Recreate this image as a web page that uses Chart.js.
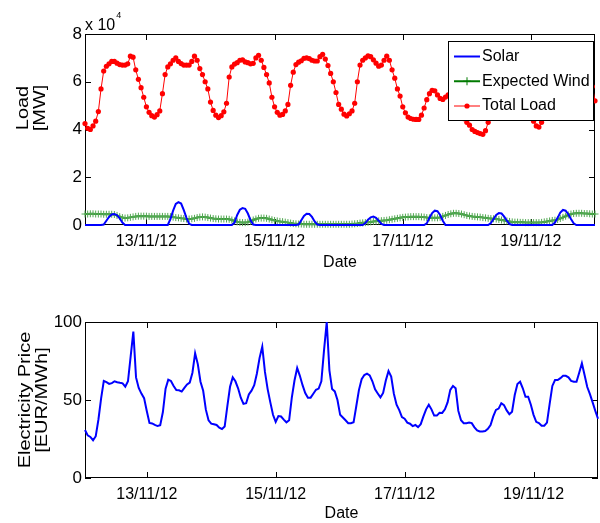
<!DOCTYPE html>
<html>
<head>
<meta charset="utf-8">
<script src="https://cdn.jsdelivr.net/npm/chart.js@4.4.1/dist/chart.umd.min.js"></script>
<style>
    body { margin: 0; background: #fff; }
    .panel { position: absolute; left: 0; }
</style>
</head>
<body>
<canvas id="loadChart" class="panel" width="600" height="285" style="top:0"></canvas>
<canvas id="priceChart" class="panel" width="600" height="238" style="top:285px"></canvas>
<script>
const FONT = "'Liberation Sans', Arial, Helvetica, sans-serif";

// one sample per hour, counted from 12/11/12 00:00
const hours = Array.from({ length: 192 }, (_, i) => i + 1);
const tickHours = [24, 72, 120, 168];
const dateLabels = ['13/11/12', '15/11/12', '17/11/12', '19/11/12'];

// MW
const solar = [
    0, 0, 0, 0, 0, 0, 0, 200, 1800, 3400, 4400, 4600, 4100, 2800, 1000, 0, 0, 0, 0, 0, 0, 0, 0, 0,
    0, 0, 0, 0, 0, 0, 0, 0, 2500, 6000, 8800, 9600, 9000, 6200, 3000, 500, 0, 0, 0, 0, 0, 0, 0, 0,
    0, 0, 0, 0, 0, 0, 0, 0, 1000, 4200, 6400, 7100, 6800, 4800, 2000, 200, 0, 0, 0, 0, 0, 0, 0, 0,
    0, 0, 0, 0, 0, 0, 0, 0, 200, 2000, 3800, 4700, 4600, 3400, 1500, 200, 0, 0, 0, 0, 0, 0, 0, 0,
    0, 0, 0, 0, 0, 0, 0, 0, 0, 800, 2200, 3200, 3500, 3000, 1800, 500, 0, 0, 0, 0, 0, 0, 0, 0,
    0, 0, 0, 0, 0, 0, 0, 0, 700, 3000, 5000, 6000, 5800, 4200, 1800, 0, 0, 0, 0, 0, 0, 0, 0, 0,
    0, 0, 0, 0, 0, 0, 0, 0, 800, 2500, 4200, 5000, 4800, 3500, 1800, 400, 0, 0, 0, 0, 0, 0, 0, 0,
    0, 0, 0, 0, 0, 0, 0, 0, 1000, 3000, 5200, 6300, 6000, 4500, 2500, 700, 0, 0, 0, 0, 0, 0, 0, 0
];
const expectedWind = [
    4600, 4600, 4700, 4700, 4600, 4600, 4600, 4500, 4500, 4500, 4500, 4400, 4000, 3500, 3100, 2900, 3000, 3200, 3400, 3600, 3700, 3700, 3700, 3700,
    3600, 3600, 3600, 3600, 3600, 3600, 3600, 3600, 3500, 3300, 3100, 3000, 2800, 2700, 2500, 2500, 2600, 2800, 3100, 3300, 3400, 3300, 3100, 2900,
    2700, 2600, 2500, 2500, 2500, 2500, 2400, 2100, 1700, 1300, 1100, 1000, 1000, 1200, 1600, 2100, 2500, 2800, 2900, 2900, 2800, 2500, 2200, 1900,
    1700, 1500, 1400, 1200, 1000, 800, 600, 500, 400, 400, 300, 300, 300, 300, 300, 300, 300, 300, 300, 300, 300, 300, 300, 300,
    300, 300, 300, 300, 400, 500, 600, 800, 900, 1000, 1100, 1300, 1500, 1600, 1700, 1800, 1900, 2000, 2200, 2400, 2600, 2800, 3000, 3200,
    3300, 3400, 3500, 3500, 3500, 3500, 3400, 3300, 3100, 3000, 3000, 3000, 3000, 3200, 3600, 4000, 4400, 4700, 4900, 4900, 4800, 4600, 4300, 4000,
    3800, 3600, 3500, 3400, 3300, 3100, 3000, 2800, 2700, 2600, 2500, 2300, 2100, 1900, 1700, 1500, 1300, 1200, 1200, 1100, 1100, 1000, 1000, 1000,
    1000, 1000, 1000, 1100, 1300, 1500, 1700, 1900, 2000, 2300, 2700, 3200, 3700, 4200, 4600, 4800, 4900, 4900, 4900, 4800, 4800, 4700, 4600, 4600
];
const totalLoad = [
    42500, 40500, 40000, 41500, 43500, 47500, 57000, 64500, 66500, 67500, 68500, 68500, 67800, 67200, 67000, 67000, 67500, 70700, 70300, 65000, 61000, 57500, 53500, 49500,
    47200, 45800, 45200, 46200, 47800, 55000, 63000, 66200, 67500, 69000, 70000, 68500, 67600, 67000, 67000, 67000, 68500, 70700, 69000, 65500, 63000, 60000, 57000, 51500,
    48000, 46000, 45000, 45800, 47400, 51000, 62000, 66200, 67400, 68000, 69000, 69200, 68300, 68000, 67500, 67700, 70000, 71100, 69000, 66000, 63000, 59500, 53500, 49500,
    47200, 46000, 46300, 47800, 50500, 58500, 64000, 67200, 68200, 68800, 69800, 70000, 69700, 69000, 68700, 68700, 70500, 71500, 69500, 66800, 63500, 60000, 55500, 50500,
    48500, 46400, 45700, 46600, 47800, 51000, 60000, 67000, 69000, 70000, 70800, 70500, 69200, 67800, 66500, 67000, 69000, 70700, 69000, 65000, 61500, 57000, 54000, 49500,
    47000, 45200, 44600, 44300, 44200, 44200, 46000, 49000, 52500, 55000, 56400, 56200, 54500, 53000, 52600, 53600, 54500, 55000, 53500, 51000, 48500, 46500, 44500, 43000,
    41800, 40000, 39200, 38700, 38300, 38000, 39500, 43000, 45000, 47500, 50000, 52000, 53000, 53500, 53000, 52000, 51500, 52500, 55000, 56000, 54500, 52000, 49500, 46500,
    43500, 41500, 41000, 43000, 46000, 53000, 62000, 66000, 67500, 68500, 69500, 69500, 68500, 67500, 67000, 67000, 69000, 70500, 69000, 66000, 63000, 60000, 58000, 52000
];

// EUR/MWh
const price = [
    30.8, 27.3, 26.3, 24.2, 26.8, 37.5, 51.0, 62.2, 61.5, 60.3, 60.8, 62.0, 61.4, 61.0, 60.7, 58.5, 62.0, 78.0, 93.8, 64.5, 57.7, 54.1, 51.2, 43.0,
    35.3, 35.0, 34.0, 33.3, 33.8, 42.3, 57.3, 63.0, 62.2, 59.0, 56.4, 56.2, 55.4, 57.8, 60.0, 61.2, 67.5, 80.0, 73.0, 61.7, 55.9, 43.8, 37.0, 34.8,
    34.4, 34.0, 32.2, 31.4, 33.0, 46.0, 58.5, 64.5, 62.0, 57.5, 51.5, 47.5, 47.9, 53.5, 56.0, 59.5, 67.0, 77.0, 84.2, 68.0, 57.0, 48.5, 40.5, 36.0,
    39.7, 39.4, 37.4, 35.7, 37.0, 51.5, 62.5, 70.5, 65.5, 59.5, 54.5, 51.5, 51.5, 54.0, 56.6, 57.3, 62.0, 82.0, 100, 69.0, 57.0, 55.5, 50.0, 40.5,
    38.8, 37.0, 35.1, 35.1, 35.7, 46.0, 56.5, 63.3, 66.0, 66.9, 65.8, 62.0, 56.8, 54.2, 51.7, 54.5, 62.5, 68.5, 65.0, 54.0, 47.0, 43.5, 39.0, 38.0,
    35.5, 34.8, 33.3, 34.0, 32.6, 34.5, 39.5, 44.0, 47.0, 44.0, 40.0, 40.0, 41.8, 41.7, 44.0, 48.5, 56.5, 59.0, 57.5, 43.0, 37.0, 35.1, 35.1, 35.5,
    35.2, 32.5, 30.5, 29.8, 29.8, 30.1, 31.5, 34.0, 39.5, 43.6, 44.5, 47.9, 46.7, 43.3, 40.9, 42.5, 53.2, 60.2, 61.7, 57.5, 52.1, 52.1, 47.0, 40.5,
    36.0, 35.2, 33.5, 33.5, 35.5, 47.5, 59.0, 62.8, 62.8, 64.0, 65.5, 65.5, 64.5, 62.2, 61.7, 61.7, 67.5, 73.5, 66.0, 58.3, 53.8, 48.5, 43.0, 38.0
];

// black box with inward tick marks, matlab style
const frame = {
    id: 'frame',
    beforeDatasetsDraw(chart) {
        const { ctx, chartArea: a, scales: { x, y } } = chart;
        ctx.save();
        ctx.strokeStyle = '#000';
        ctx.lineWidth = 1;
        ctx.strokeRect(a.left + 0.5, a.top + 0.5, a.right - a.left - 1, a.bottom - a.top - 1);
        ctx.beginPath();
        x.ticks.forEach(t => {
            const px = Math.round(x.getPixelForValue(t.value)) + 0.5;
            ctx.moveTo(px, a.bottom); ctx.lineTo(px, a.bottom - 6);
            ctx.moveTo(px, a.top); ctx.lineTo(px, a.top + 6);
        });
        y.ticks.forEach(t => {
            const py = Math.round(y.getPixelForValue(t.value)) + 0.5;
            ctx.moveTo(a.left, py); ctx.lineTo(a.left + 6, py);
            ctx.moveTo(a.right, py); ctx.lineTo(a.right - 6, py);
        });
        ctx.stroke();
        ctx.restore();
    }
};

// rotated two-line y title (glyphs a bit squeezed, like the original export)
const yTitle = {
    id: 'yTitle',
    afterDraw(chart, args, opts) {
        const ctx = chart.ctx;
        ctx.save();
        ctx.fillStyle = '#000';
        ctx.font = `20px ${FONT}`;
        ctx.textAlign = 'center';
        ctx.textBaseline = 'alphabetic';
        opts.lines.forEach(l => {
            ctx.save();
            ctx.translate(l.x, opts.y);
            ctx.scale(0.8, 1);
            ctx.rotate(-Math.PI / 2);
            ctx.fillText(l.text, 0, 0);
            ctx.restore();
        });
        ctx.restore();
    }
};

const exponent = {
    id: 'exponent',
    afterDraw(chart) {
        const { ctx, chartArea: a } = chart;
        ctx.save();
        ctx.fillStyle = '#000';
        ctx.textBaseline = 'alphabetic';
        ctx.font = `16px ${FONT}`;
        ctx.fillText('x 10', a.left, a.top - 4);
        const w = ctx.measureText('x 10').width;
        ctx.font = `9px ${FONT}`;
        ctx.fillText('4', a.left + w + 1, a.top - 16);
        ctx.restore();
    }
};

const legendBox = {
    id: 'legendBox',
    afterDraw(chart) {
        const { ctx, chartArea: a } = chart;
        const w = 146, h = 80;
        const right = a.right - 1, top = a.top + 7, left = right - w;
        ctx.save();
        ctx.fillStyle = '#fff';
        ctx.fillRect(left, top, w, h);
        ctx.strokeStyle = '#000';
        ctx.lineWidth = 1;
        ctx.strokeRect(left + 0.5, top + 0.5, w - 1, h - 1);
        ctx.font = `16px ${FONT}`;
        ctx.textBaseline = 'middle';
        chart.data.datasets.forEach((ds, i) => {
            const yy = top + 15.5 + i * 24.75;
            const x0 = left + 6, x1 = left + 32, xm = (x0 + x1) / 2;
            ctx.strokeStyle = ds.borderColor;
            ctx.lineWidth = ds.borderWidth;
            ctx.beginPath();
            ctx.moveTo(x0, yy); ctx.lineTo(x1, yy);
            ctx.stroke();
            if (ds.pointStyle === 'cross') {
                ctx.lineWidth = 1;
                ctx.beginPath();
                ctx.moveTo(xm - 4, yy); ctx.lineTo(xm + 4, yy);
                ctx.moveTo(xm, yy - 4); ctx.lineTo(xm, yy + 4);
                ctx.stroke();
            } else if (ds.pointRadius > 0) {
                ctx.fillStyle = ds.pointBackgroundColor;
                ctx.beginPath();
                ctx.arc(xm, yy, ds.pointRadius, 0, Math.PI * 2);
                ctx.fill();
            }
            ctx.fillStyle = '#000';
            ctx.fillText(ds.label, left + 34, yy);
        });
        ctx.restore();
    }
};

function xAxis(height, titlePad) {
    return {
        type: 'linear',
        min: 1,
        max: 192,
        grid: { display: false, drawTicks: false },
        border: { display: false },
        afterBuildTicks: scale => { scale.ticks = tickHours.map(v => ({ value: v })); },
        afterFit: scale => { scale.height = height; },
        ticks: {
            autoSkip: false,
            maxRotation: 0,
            padding: 7,
            color: '#000',
            font: { family: FONT, size: 16 },
            callback: (v, i) => dateLabels[i]
        },
        title: {
            display: true,
            text: 'Date',
            color: '#000',
            font: { family: FONT, size: 16 },
            padding: { top: 0, bottom: titlePad }
        }
    };
}

function yAxis(max, step, fmt) {
    return {
        min: 0,
        max: max,
        grid: { display: false, drawTicks: false },
        border: { display: false },
        afterFit: scale => { scale.width = 85; },
        ticks: {
            stepSize: step,
            padding: 3,
            color: '#000',
            font: { family: FONT, size: 17 },
            callback: fmt
        }
    };
}

new Chart(document.getElementById('loadChart'), {
    type: 'line',
    data: {
        labels: hours,
        datasets: [{
            label: 'Solar',
            data: solar,
            borderColor: '#0000ff',
            borderWidth: 2,
            pointRadius: 0,
            clip: false,
            order: 1
        }, {
            label: 'Expected Wind',
            data: expectedWind,
            borderColor: '#007a00',
            borderWidth: 2,
            pointStyle: 'cross',
            pointRadius: 3.5,
            pointBorderColor: '#52a852',
            pointBorderWidth: 1,
            clip: false,
            order: 2
        }, {
            label: 'Total Load',
            data: totalLoad,
            borderColor: '#ff0000',
            borderWidth: 1,
            pointRadius: 2.6,
            pointBackgroundColor: '#ff0000',
            pointBorderWidth: 0,
            clip: false,
            order: 0
        }]
    },
    options: {
        responsive: false,
        animation: false,
        events: [],
        layout: { padding: { top: 34, right: 2, bottom: 0, left: 0 } },
        plugins: {
            legend: { display: false },
            tooltip: { enabled: false },
            yTitle: { y: 108, lines: [{ text: 'Load', x: 27.5 }, { text: '[MW]', x: 45 }] }
        },
        scales: {
            x: xAxis(60, 13),
            y: yAxis(80000, 20000, v => v / 10000)
        }
    },
    plugins: [frame, yTitle, exponent, legendBox]
});

new Chart(document.getElementById('priceChart'), {
    type: 'line',
    data: {
        labels: hours,
        datasets: [{
            label: 'Electricity Price',
            data: price,
            borderColor: '#0000ff',
            borderWidth: 2,
            pointRadius: 0,
            clip: false
        }]
    },
    options: {
        responsive: false,
        animation: false,
        events: [],
        layout: { padding: { top: 37, right: 2, bottom: 0, left: 0 } },
        plugins: {
            legend: { display: false },
            tooltip: { enabled: false },
            yTitle: { y: 115, lines: [{ text: 'Electricity Price', x: 30 }, { text: '[EUR/MWh]', x: 47 }] }
        },
        scales: {
            x: xAxis(45, 0),
            y: yAxis(100, 50, v => v)
        }
    },
    plugins: [frame, yTitle]
});
</script>
</body>
</html>
